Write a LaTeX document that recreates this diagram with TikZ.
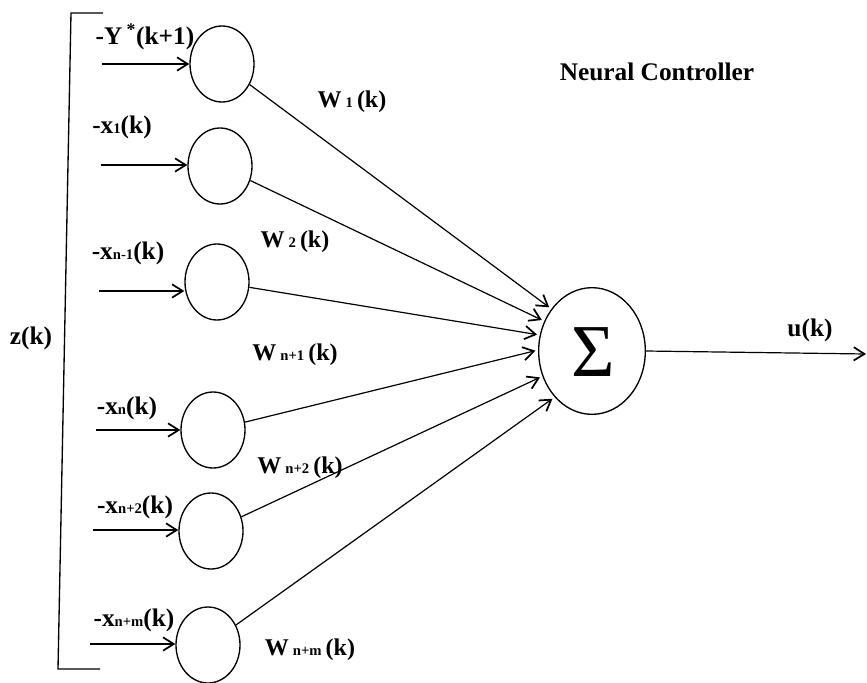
\documentclass[tikz,border=0pt]{standalone}
\usepackage{fontspec}
\setmainfont{Liberation Serif}
\usetikzlibrary{arrows.meta,shapes.geometric}
\newcommand\lbsub[1]{{\fontsize{11}{12}\selectfont #1}}
\tikzset{
  lab/.style={font=\bfseries\fontsize{19}{22}\selectfont, inner sep=0pt},
  wlab/.style={font=\bfseries\fontsize{18}{22}\selectfont, inner sep=0pt},
  neuron/.style={draw, ellipse, line width=1pt, minimum width=48pt, minimum height=57pt, inner sep=0pt},
  sumnode/.style={draw, ellipse, line width=1pt, minimum width=80pt, minimum height=95pt, inner sep=0pt},
  conn/.style={line width=0.9pt, -{Straight Barb[length=8pt,width=10pt,line width=1.3pt]}},
  plain/.style={line width=1pt}
}
\begin{document}
\begin{tikzpicture}[x=0.75pt,y=-0.75pt]
\useasboundingbox (0,0) rectangle (867,682);
% input neurons
\node[neuron] (c1) at (222,64) {};
\node[neuron] (c2) at (220,166) {};
\node[neuron] (c3) at (217,282) {};
\node[neuron] (c4) at (213,430) {};
\node[neuron] (c5) at (211,531) {};
\node[neuron] (c6) at (208,645) {};
% summing node
\node[sumnode] (sum) at (592,351) {};
\node[inner sep=0pt, font=\fontsize{56}{60}\selectfont] (sig) at (593,352) {Σ};
% input arrow tails
\coordinate (t1) at (102,64);
\coordinate (t2) at (101,165);
\coordinate (t3) at (99,291);
\coordinate (t4) at (96,430);
\coordinate (t5) at (93,530);
\coordinate (t6) at (90,644);
\foreach \i in {1,...,6}{
  \draw[conn] (t\i) -- (t\i -| c\i.west);
}
% connections to sum
\draw[conn, shorten >=2pt] (c1) -- (sum.134);
\draw[conn, shorten >=2pt] (c2) -- (sum.148);
\draw[conn, shorten >=2pt] (c3) -- (sum.163);
\draw[conn, shorten >=2pt] (c4) -- (sum.179);
\draw[conn, shorten >=2pt] (c5) -- (sum.207);
\draw[conn, shorten >=2pt] (c6) -- (sum.231);
% output
\coordinate (out) at (866,354);
\draw[conn] (sum.east) -- (out);
% bracket
\coordinate (b1) at (103,13);
\coordinate (b2) at (71,13);
\coordinate (b3) at (58,669);
\coordinate (b4) at (100,669);
\draw[plain] (b1) -- (b2) -- (b3) -- (b4);
% labels
\node[lab] (l1) at (145,37) {-Y\,\textsuperscript{*}(k+1)};
\node[lab] (l2) at (122,127) {-x\lbsub{1}(k)};
\node[lab] (l3) at (128,253) {-x\lbsub{n-1}(k)};
\node[lab] (l4) at (127,408) {-x\lbsub{n}(k)};
\node[lab] (l5) at (135,507) {-x\lbsub{n+2}(k)};
\node[lab] (l6) at (134,620) {-x\lbsub{n+m}(k)};
\node[wlab] (w1) at (352,102) {W\,\lbsub{1}\,(k)};
\node[wlab] (w2) at (295,242) {W\,\lbsub{2}\,(k)};
\node[wlab] (w3) at (295,355) {W\,\lbsub{n+1}\,(k)};
\node[wlab] (w4) at (300,468) {W\,\lbsub{n+2}\,(k)};
\node[wlab] (w5) at (310,650) {W\,\lbsub{n+m}\,(k)};
\node[lab] (title) at (657,72) {Neural Controller};
\node[lab] (uk) at (810,330) {u(k)};
\node[lab] (zk) at (31,338) {z(k)};
\end{tikzpicture}
\end{document}
